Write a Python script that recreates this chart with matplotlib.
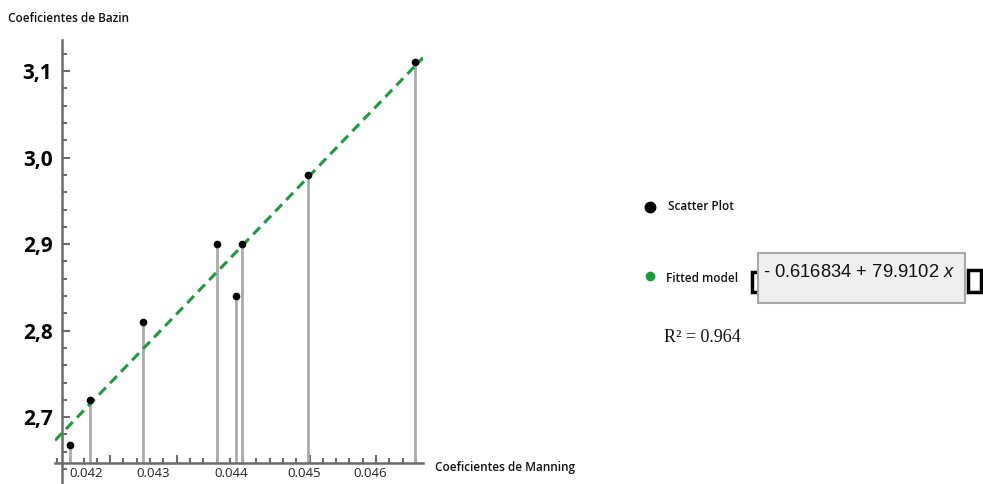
import numpy as np
import matplotlib
matplotlib.use("Agg")
import matplotlib.pyplot as plt
import matplotlib.transforms as mtransforms
from matplotlib.ticker import MultipleLocator, FuncFormatter
from matplotlib.patches import Rectangle

# dados
manning = [0.04139, 0.04170, 0.04250, 0.04360, 0.04389, 0.04399, 0.04498, 0.04659]
bazin = [2.668, 2.72, 2.81, 2.90, 2.84, 2.90, 2.98, 3.11]
intercept = -0.616834
slope = 79.9102
r2 = 0.964

x_ticks = [0.042, 0.043, 0.044, 0.045, 0.046]
y_ticks = [2.7, 2.8, 2.9, 3.0, 3.1]
# deslocamento horizontal (px) dos rótulos do eixo x, como no original
x_label_shift = [-24, -24, -12, -5, -6]

plt.rcParams["mathtext.fontset"] = "custom"
plt.rcParams["mathtext.it"] = "Liberation Sans:italic"

W, H = 983, 484
fig = plt.figure(figsize=(W / 100, H / 100), dpi=100)
ax = fig.add_axes([55 / W, 0, 368 / W, (H - 40) / H])

x_min, x_max = 0.04117, 0.046707
y_min, y_max = 2.6227, 3.136
x_origin, y_origin = 0.041278, 2.647
ax.set_xlim(x_min, x_max)
ax.set_ylim(y_min, y_max)

axis_col = "#6b6b6b"
for s in ["top", "right"]:
    ax.spines[s].set_visible(False)
ax.spines["bottom"].set_position(("data", y_origin))
ax.spines["left"].set_position(("data", x_origin))
for s in ["bottom", "left"]:
    ax.spines[s].set_color(axis_col)
    ax.spines[s].set_linewidth(1.8)

# hastes cinzas
ax.vlines(manning, y_origin, bazin, color="#ababab", lw=2.0, zorder=2)

# modelo ajustado
xf = np.array([x_min, x_max])
ax.plot(xf, intercept + slope * xf, color="#1e9a3e", lw=2.2,
        ls=(0, (3.2, 2.0)), zorder=3)

ax.plot(manning, bazin, "o", color="black", ms=4.5, zorder=4)

ax.set_xticks(x_ticks)
ax.set_yticks(y_ticks)
ax.xaxis.set_minor_locator(MultipleLocator(0.0002))
ax.yaxis.set_minor_locator(MultipleLocator(0.02))
ax.xaxis.set_major_formatter(FuncFormatter(lambda v, p: f"{v:.3f}"))
ax.yaxis.set_major_formatter(FuncFormatter(lambda v, p: f"{v:.1f}".replace(".", ",")))

ax.tick_params(axis="both", which="both", direction="in", color=axis_col, width=1.5)
ax.tick_params(axis="x", which="major", length=6, pad=3, labelsize=9.5,
               labelcolor="#222222")
ax.tick_params(axis="x", which="minor", length=3.5)
ax.tick_params(axis="y", which="major", length=6, pad=7, labelsize=15)
ax.tick_params(axis="y", which="minor", length=3.5)
for lab, dx in zip(ax.get_xticklabels(), x_label_shift):
    lab.set_family("Open Sans")
    lab.set_transform(lab.get_transform() +
                      mtransforms.ScaledTranslation(dx / 100, 0, fig.dpi_scale_trans))
for lab in ax.get_yticklabels():
    lab.set_family("Open Sans")
    lab.set_weight("bold")

lbl = dict(family="Open Sans", weight="semibold", fontsize=8.5, color="#111111")
fig.text(8 / W, 1 - 18.5 / H, "Coeficientes de Bazin", va="center", ha="left", **lbl)
fig.text(435 / W, 1 - 468 / H, "Coeficientes de Manning", va="center", ha="left", **lbl)

# legenda
fig.lines.append(plt.Line2D([650 / W], [1 - 207 / H], marker="o", ms=7.5,
                            color="black", transform=fig.transFigure))
fig.text(668 / W, 1 - 206 / H, "Scatter Plot", va="center", ha="left", **lbl)
fig.lines.append(plt.Line2D([650 / W], [1 - 276 / H], marker="o", ms=6,
                            color="#1e9a3e", transform=fig.transFigure))
fig.text(666 / W, 1 - 278 / H, "Fitted model", va="center", ha="left", **lbl)

# caixa da equação
fig.patches.append(Rectangle((752 / W, 1 - 292 / H), 8 / W, 20 / H, fill=False,
                             ec="black", lw=2.5, transform=fig.transFigure))
fig.patches.append(Rectangle((968 / W, 1 - 292 / H), 13 / W, 22 / H, fill=False,
                             ec="black", lw=2.5, transform=fig.transFigure))
fig.patches.append(Rectangle((758 / W, 1 - 303 / H), 207 / W, 50 / H, fc="#efefef",
                             ec="#a8a8a8", lw=1.5, transform=fig.transFigure))
eq = f"- {abs(intercept):.6f} + {slope:.4f} $x$"
fig.text(763 / W, 1 - 277 / H, eq, va="baseline", ha="left",
         family="Liberation Sans", fontsize=13.2, color="#111111")

fig.text(664 / W, 1 - 341.5 / H, f"R\u00b2 = {r2:.3f}", va="baseline", ha="left",
         family="Liberation Serif", fontsize=13, color="#111111")

fig.savefig("out.png", dpi=100)
